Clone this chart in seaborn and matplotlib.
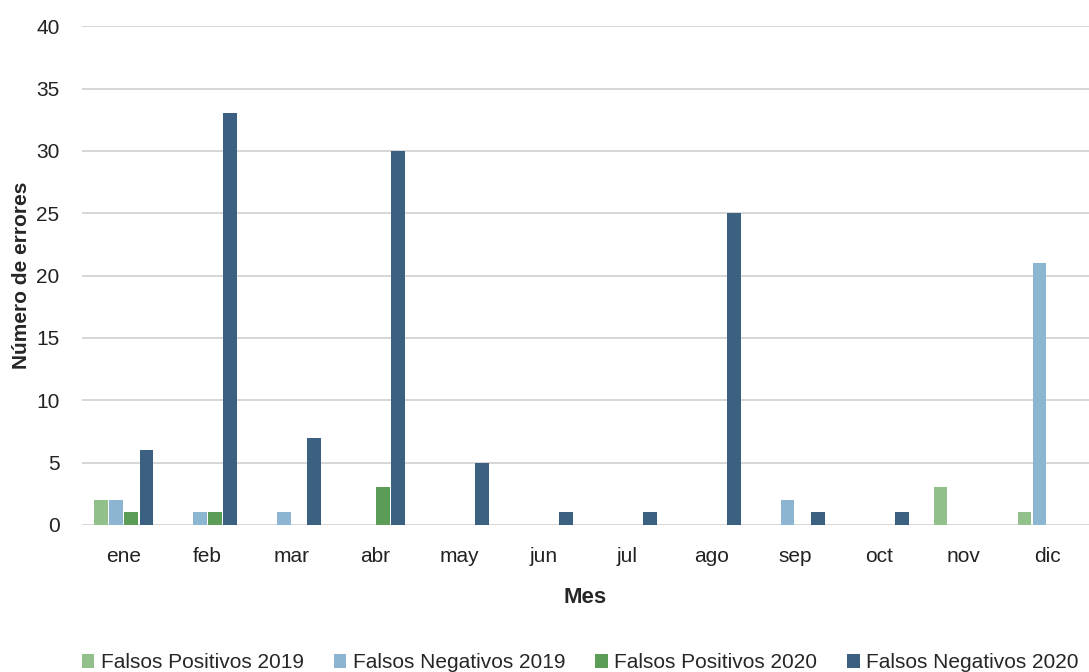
import numpy as np
import pandas as pd
import seaborn as sns
from matplotlib import pyplot as plt

# datos
meses = ['ene', 'feb', 'mar', 'abr', 'may', 'jun', 'jul', 'ago', 'sep', 'oct', 'nov', 'dic']
fp_2019 = [2, 0, 0, 0, 0, 0, 0, 0, 0, 0, 3, 1]
fn_2019 = [2, 1, 1, 0, 0, 0, 0, 0, 2, 0, 0, 21]
fp_2020 = [1, 1, 0, 3, 0, 0, 0, 0, 0, 0, 0, 0]
fn_2020 = [6, 33, 7, 30, 5, 1, 1, 25, 1, 1, 0, 0]
series = ['Falsos Positivos 2019', 'Falsos Negativos 2019', 'Falsos Positivos 2020', 'Falsos Negativos 2020']
colores = ['#91c08b', '#8cb5d1', '#5b9d57', '#3c6081']

df = pd.DataFrame({'Mes': meses, series[0]: fp_2019, series[1]: fn_2019,
                   series[2]: fp_2020, series[3]: fn_2020})
df = df.melt(id_vars='Mes', var_name='serie', value_name='errores')

sns.set_style('white')
plt.rcParams['font.family'] = ['Liberation Sans Narrow', 'DejaVu Sans Condensed', 'Liberation Sans', 'DejaVu Sans']

fig = plt.figure(figsize=(10.89, 6.72), dpi=100)
ax = fig.add_axes([0.075, 0.219, 0.925, 0.742])
sns.barplot(data=df, x='Mes', y='errores', hue='serie', hue_order=series,
            palette=colores, saturation=1, width=0.72, gap=0.1, linewidth=0,
            ax=ax, legend=True)

ax.set_ylim(0, 40)
ax.set_yticks(np.arange(0, 41, 5))
ax.yaxis.grid(True, color='#d0d0d0', lw=1.2)
ax.set_axisbelow(True)
for s in ax.spines.values():
    s.set_visible(False)
ax.tick_params(axis='both', length=0, labelsize=15, colors='#222222')
ax.tick_params(axis='x', pad=16)
ax.tick_params(axis='y', pad=16)
ax.set_xlabel('Mes', fontsize=16, fontweight='bold', labelpad=15)
ax.set_ylabel('Número de errores', fontsize=15, fontweight='bold', labelpad=4)

handles, labels = ax.get_legend_handles_labels()
ax.legend(handles, labels, loc='upper center', bbox_to_anchor=(0.495, -0.22), ncol=4,
          frameon=False, fontsize=15, handlelength=0.6, handleheight=0.6,
          handletextpad=0.3, columnspacing=1.45)

plt.savefig('out.png', dpi=100)
